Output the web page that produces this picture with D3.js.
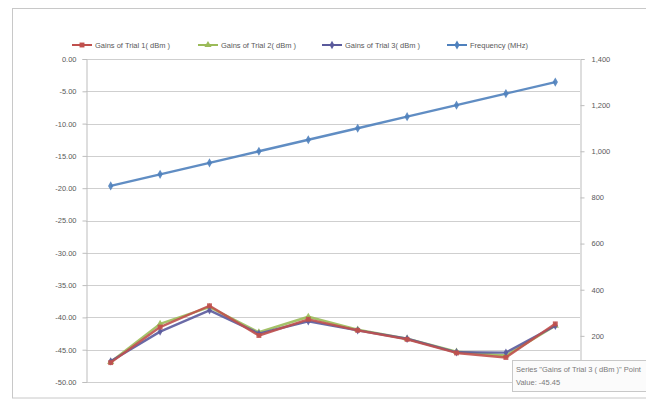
<!DOCTYPE html>
<html>
<head>
<meta charset="utf-8">
<script src="https://cdn.jsdelivr.net/npm/d3@7"></script>
<style>
  html, body { margin: 0; padding: 0; background: #fff; }
  svg { display: block; font-family: "Liberation Sans", Arial, sans-serif; }
</style>
</head>
<body>
<svg id="chart" width="646" height="400"></svg>
<script>
// Frequency sweep points (MHz) and measured gains for three trials (dBm)
const frequency = [850, 900, 950, 1000, 1050, 1100, 1150, 1200, 1250, 1300];
const trial1 = [-47.0, -41.5, -38.2, -42.8, -40.3, -42.0, -43.4, -45.5, -46.2, -41.0];
const trial2 = [-46.9, -41.0, -38.4, -42.3, -39.9, -41.9, -43.3, -45.3, -45.9, -41.3];
const trial3 = [-46.8, -42.2, -38.9, -42.5, -40.6, -42.0, -43.3, -45.4, -45.45, -41.3];

const leftTicks = [0, -5, -10, -15, -20, -25, -30, -35, -40, -45, -50];
const rightTicks = [0, 200, 400, 600, 800, 1000, 1200, 1400];
const seriesNames = ["Gains of Trial 1( dBm )", "Gains of Trial 2( dBm )", "Gains of Trial 3( dBm )", "Frequency (MHz)"];
const seriesColors = ["#C0504D", "#9BBB59", "#5A5A9C", "#4F81BD"];

const svg = d3.select("#chart");
const plot = { left: 86, right: 580, top: 59, bottom: 382 };
const textColor = "#595959";

// outer chart frame
svg.append("rect")
  .attr("x", 12.5).attr("y", 8.5).attr("width", 660).attr("height", 389.5)
  .attr("fill", "#fff").attr("stroke", "#c8c8c8");

const x = d3.scaleBand().domain(d3.range(frequency.length))
  .range([plot.left, plot.right]);
const yL = d3.scaleLinear().domain([-50, 0]).range([plot.bottom, plot.top]);
const yR = d3.scaleLinear().domain([0, 1400]).range([plot.bottom, plot.top]);
const cx = i => x(i) + x.bandwidth() / 2;

// horizontal gridlines
svg.append("g").selectAll("line").data(leftTicks).join("line")
  .attr("x1", plot.left).attr("x2", plot.right)
  .attr("y1", d => Math.round(yL(d)) + 0.5).attr("y2", d => Math.round(yL(d)) + 0.5)
  .attr("stroke", "#cfcfcf").attr("stroke-width", 1);

// left axis
const axL = svg.append("g").attr("transform", `translate(${plot.left + 0.5},0)`)
  .call(d3.axisLeft(yL).tickValues(leftTicks).tickSize(4).tickPadding(6)
    .tickFormat(d => d.toFixed(2)));
axL.select(".domain").attr("stroke", "#bdbdbd");
axL.selectAll(".tick line").attr("stroke", "#bdbdbd");
axL.selectAll("text").style("fill", textColor).attr("font-size", 7.5);

// right axis
const axR = svg.append("g").attr("transform", `translate(${plot.right + 0.5},0)`)
  .call(d3.axisRight(yR).tickValues(rightTicks).tickSize(4).tickPadding(7)
    .tickFormat(d3.format(",")));
axR.select(".domain").attr("stroke", "#bdbdbd");
axR.selectAll(".tick line").attr("stroke", "#bdbdbd");
axR.selectAll("text").style("fill", textColor).attr("font-size", 7.5);

// series lines and markers
const series = [
  { values: trial1, scale: yL, marker: d3.symbolSquare, size: 24 },
  { values: trial2, scale: yL, marker: d3.symbolTriangle, size: 22 },
  { values: trial3, scale: yL, marker: d3.symbolDiamond, size: 20 },
  { values: frequency, scale: yR, marker: d3.symbolDiamond, size: 24 }
];
const drawOrder = [1, 2, 0, 3];
drawOrder.forEach(k => {
  const s = series[k];
  const line = d3.line().x((d, i) => cx(i)).y(d => s.scale(d));
  svg.append("path").datum(s.values)
    .attr("d", line).attr("fill", "none")
    .attr("stroke", seriesColors[k]).attr("stroke-width", 2.4)
    .attr("stroke-linejoin", "round").attr("opacity", 0.9);
  svg.append("g").selectAll("path").data(s.values).join("path")
    .attr("transform", (d, i) => `translate(${cx(i)},${s.scale(d)})`)
    .attr("d", d3.symbol(s.marker, s.size))
    .attr("fill", seriesColors[k]).attr("opacity", 0.9);
});

// legend
const legendX = [72, 198, 322, 447];
const lg = svg.append("g");
seriesNames.forEach((name, k) => {
  const g = lg.append("g").attr("transform", `translate(${legendX[k]},45)`);
  g.append("line").attr("x1", 0).attr("x2", 20).attr("y1", 0).attr("y2", 0)
    .attr("stroke", seriesColors[k]).attr("stroke-width", 2);
  g.append("path").attr("transform", "translate(10,0)")
    .attr("d", d3.symbol(series[k].marker, series[k].size)).attr("fill", seriesColors[k]);
  g.append("text").attr("x", 23).attr("y", 2.5)
    .attr("font-size", 7.5).attr("fill", textColor).text(name);
});

// hover tooltip box
const tip = svg.append("g").attr("transform", "translate(512,360)");
tip.append("rect").attr("x", 0.5).attr("y", 0.5).attr("width", 140).attr("height", 31)
  .attr("fill", "#fbfbfb").attr("stroke", "#c8c8c8");
tip.append("text").attr("x", 4).attr("y", 12).attr("font-size", 7.5)
  .attr("fill", "#7a7a7a").text("Series \"Gains of Trial 3 ( dBm )\" Point");
tip.append("text").attr("x", 4).attr("y", 25).attr("font-size", 7.5)
  .attr("fill", "#7a7a7a").text("Value: " + trial3[8].toFixed(2));
</script>
</body>
</html>
